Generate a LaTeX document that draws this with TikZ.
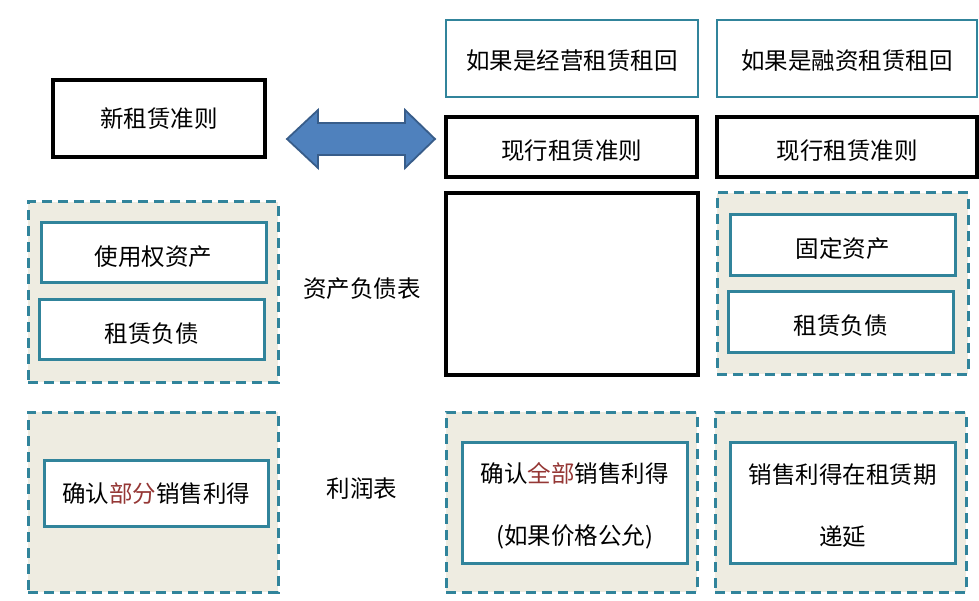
\documentclass[tikz,border=0pt]{standalone}
\usepackage{fontspec}
\setmainfont{Noto Sans CJK SC}
\usetikzlibrary{shapes.geometric}
\definecolor{tealc}{HTML}{31849B}
\definecolor{bgfill}{HTML}{EEECE1}
\definecolor{redtxt}{HTML}{953735}
\definecolor{arrowfill}{HTML}{4F81BD}
\definecolor{arrowline}{HTML}{385D8A}
\tikzset{
  txt/.style={font=\fontsize{23.5}{28}\selectfont},
  low/.style={text height=#1, text depth=0pt},
  blackbox/.style={draw=black, line width=3.2pt, fill=white, rectangle, inner sep=0pt, txt},
  tealbox/.style={draw=tealc, line width=3pt, fill=white, rectangle, inner sep=0pt, txt},
  region/.style={draw=tealc, line width=3pt, fill=bgfill, rectangle, inner sep=0pt, dash pattern=on 10pt off 6pt},
  lbl/.style={inner sep=0pt, txt},
  twotxt/.style={inner sep=0pt, align=center, font=\fontsize{23.5}{62}\selectfont}
}
\begin{document}
\begin{tikzpicture}[x=1pt,y=-1pt]
\useasboundingbox (0,0) rectangle (979,601);
% top row
\node[blackbox, minimum width=212pt, minimum height=77pt] (new) at (159,118.5) {新租赁准则};
\node[tealbox, low=21.8pt, line width=2.6pt, minimum width=252pt, minimum height=77pt] (op) at (572,58.5) {如果是经营租赁租回};
\node[tealbox, low=21.8pt, line width=2.6pt, minimum width=260pt, minimum height=77pt] (fin) at (847,58.5) {如果是融资租赁租回};
\node[blackbox, low=25.8pt, minimum width=251pt, minimum height=60pt] (cur1) at (571.5,147) {现行租赁准则};
\node[blackbox, low=25.8pt, minimum width=260pt, minimum height=60pt] (cur2) at (847,147) {现行租赁准则};
% double arrow
\coordinate (al) at (287,139);
\coordinate (ar) at (435,139);
\filldraw[fill=arrowfill, draw=arrowline, line width=1.8pt, line join=miter]
  (al) -- (318,110) -- (318,123) -- (405,123) -- (405,110) -- (ar)
  -- (405,168) -- (405,155) -- (318,155) -- (318,168) -- cycle;
% balance sheet row
\node[region, minimum width=250pt, minimum height=180pt] (lbs) at (153,292) {};
\node[tealbox, low=24.8pt, minimum width=225pt, minimum height=60pt] (rou) at (153.5,253) {使用权资产};
\node[tealbox, low=25.8pt, minimum width=225pt, minimum height=59pt] (ll1) at (151.5,329.5) {租赁负债};
\node[lbl] (bs) at (362,288.5) {资产负债表};
\node[blackbox, minimum width=252pt, minimum height=182pt] (empty) at (572,284) {};
\node[region, minimum width=251pt, minimum height=181pt] (rbs) at (842.5,283.5) {};
\node[tealbox, low=24.8pt, minimum width=225pt, minimum height=61pt] (fa) at (842.5,245.5) {固定资产};
\node[tealbox, low=25.8pt, minimum width=225pt, minimum height=60pt] (ll2) at (840.5,322) {租赁负债};
% income statement row
\node[region, minimum width=250pt, minimum height=180pt] (lis) at (153,502) {};
\node[tealbox, low=19.8pt, minimum width=224pt, minimum height=66pt] (part) at (156,493) {确认\textcolor{redtxt}{部分}销售利得};
\node[lbl] (is) at (362,488.5) {利润表};
\node[region, minimum width=251pt, minimum height=180pt] (mis) at (571.5,502) {};
\node[tealbox, minimum width=225pt, minimum height=121pt] (full) at (574.5,502.5) {};
\node[twotxt] (fulltxt) at ([yshift=-3.5pt]full.center) {确认\textcolor{redtxt}{全部}销售利得\\(如果价格公允)};
\node[region, minimum width=251pt, minimum height=180pt] (ris) at (840.5,502) {};
\node[tealbox, minimum width=225pt, minimum height=121pt] (defer) at (842.5,502.5) {};
\node[twotxt] (defertxt) at ([yshift=-3.5pt]defer.center) {销售利得在租赁期\\递延};
\end{tikzpicture}
\end{document}
